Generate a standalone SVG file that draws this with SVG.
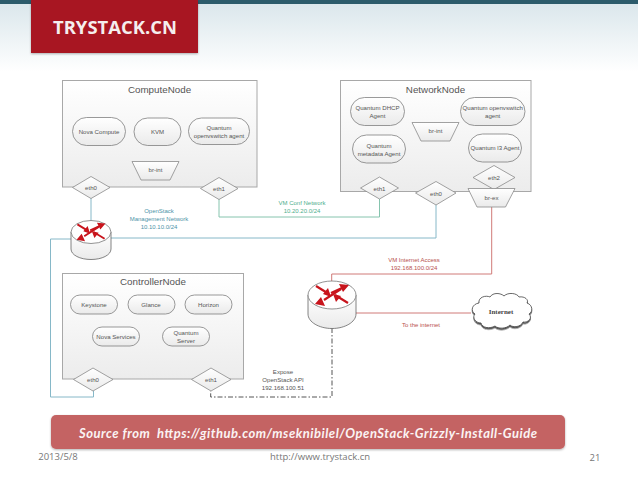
<svg xmlns="http://www.w3.org/2000/svg" width="638" height="479" viewBox="0 0 638 479">
<style>
text{font-family:"Liberation Sans",Arial,sans-serif;text-anchor:middle}
.box{fill:url(#box);stroke:#a8a8a8;stroke-width:1}
.title{font-size:9.800px;fill:#555}
.pill{fill:url(#pill);stroke:#7f7f7f;stroke-width:.8}
.sh{fill:url(#pill);stroke:#8a8a8a;stroke-width:.8}
.t{font-size:6.100px;fill:#555}
.c{fill:none;stroke-width:1}
.blue{stroke:#86b8c8}.green{stroke:#86c4ae}.red{stroke:#d07a78}
.dash{stroke:#555;stroke-dasharray:5 2 1.500 2}
.lb{font-size:6px;fill:#4d93a8}.lg{font-size:6px;fill:#4fae8c}.lr{font-size:6px;fill:#b8504e}
.foot{font-size:9.500px;fill:#777;font-family:"Open Sans","Liberation Sans",sans-serif}
.arrow{fill:#c8141c;stroke:none}
.shaft{stroke:#c8141c;stroke-width:2.200;fill:none}
</style>
<defs>
<linearGradient id="bg" x1="0" y1="0" x2="0" y2="1"><stop offset="0" stop-color="#dbe7ec"/><stop offset="1" stop-color="#fff"/></linearGradient>
<linearGradient id="box" x1="0" y1="0" x2="0" y2="1"><stop offset="0" stop-color="#fff"/><stop offset="1" stop-color="#ececec"/></linearGradient>
<linearGradient id="pill" x1="0" y1="0" x2="0" y2="1"><stop offset="0" stop-color="#fff"/><stop offset="1" stop-color="#eaeaea"/></linearGradient>
<filter id="ds" x="-5%" y="-10%" width="110%" height="125%"><feDropShadow dx="0" dy="1" stdDeviation="1" flood-color="#000" flood-opacity=".3"/></filter>
<filter id="cs" x="-10%" y="-10%" width="120%" height="130%"><feDropShadow dx="0" dy="1.500" stdDeviation=".6" flood-color="#000" flood-opacity=".7"/></filter>
<g id="arrows">
<path class="shaft" d="M-16-9L-3-1M9-6L-8 5M16 8L3 0"/>
<path class="shaft" d="M-1 -2L10-7"/>
<path class="arrow" d="M17-10L7-11L11-3ZM-17 9L-7 11L-11 2ZM-1 2L-9-1L-4-7ZM1-1L9 1L4 7Z"/>
</g>
</defs>
<rect width="638" height="479" fill="#fff"/>
<rect y="4" width="638" height="68" fill="url(#bg)"/>
<rect width="638" height="4" fill="#2c5b6b"/>
<g id="banner"><rect x="31" y="0" width="167" height="53" fill="#a81622" filter="url(#ds)"/><text x="115" y="33.500" textLength="124" lengthAdjust="spacingAndGlyphs" style="font-family:'Open Sans','Liberation Sans',sans-serif;font-size:18.500px;font-weight:700;fill:#f5eeee">TRYSTACK.CN</text></g>
<g id="connectors">
<path class="c blue" d="M91 198V222M111 238H436V205M71 239H50.500V397H93.500V391"/>
<path class="c green" d="M219 199V217H379.500V199"/>
<path class="c red" d="M491.700 207V274H331.700V281M356 313H471"/>
<path class="c dash" d="M332 328V397H210.700V391"/>
</g>
<g id="compute-node">
<rect class="box" x="62.500" y="80.500" width="194.500" height="106.500"/>
<text class="title" x="159.500" y="92.500">ComputeNode</text>
<g id="nova-compute"><rect class="pill" x="72.500" y="117.500" width="53" height="28" rx="14"/><text class="t" x="99" y="134">Nova Compute</text></g>
<g id="kvm"><rect class="pill" x="134" y="118" width="47" height="27.500" rx="13.700"/><text class="t" x="157.500" y="134">KVM</text></g>
<g id="compute-ovs-agent"><rect class="pill" x="188.500" y="118" width="61" height="26.500" rx="13"/><text class="t" x="219" y="129.500">Quantum</text><text class="t" x="219" y="137.500">openvswitch agent</text></g>
<g id="compute-br-int"><path class="sh" d="M132 161.500H179L170 180H141Z"/><text class="t" x="155.500" y="172">br-int</text></g>
<g id="compute-eth0"><path class="sh" d="M72.500 187.500L91 176.500L110 187.500L91 198.500Z"/><text class="t" x="91" y="190">eth0</text></g>
<g id="compute-eth1"><path class="sh" d="M200.500 188.500L219 177.500L238 188.500L219 199.500Z"/><text class="t" x="219" y="191">eth1</text></g>
</g>
<g id="network-node">
<rect class="box" x="340.500" y="80.500" width="190.500" height="111"/>
<text class="title" x="435.500" y="92.500">NetworkNode</text>
<g id="dhcp-agent"><rect class="pill" x="350.500" y="97.500" width="54" height="28" rx="14"/><text class="t" x="377.500" y="110">Quantum DHCP</text><text class="t" x="377.500" y="118">Agent</text></g>
<g id="ovs-agent"><rect class="pill" x="460.500" y="97.500" width="64.500" height="28" rx="14"/><text class="t" x="492.700" y="110">Quantum openvswitch</text><text class="t" x="492.700" y="118">agent</text></g>
<g id="metadata-agent"><rect class="pill" x="352.500" y="135" width="53" height="28" rx="14"/><text class="t" x="379" y="147.500">Quantum</text><text class="t" x="379" y="155.500">metadata Agent</text></g>
<g id="l3-agent"><rect class="pill" x="468.500" y="134" width="53" height="28" rx="14"/><text class="t" x="495" y="150">Quantum l3 Agent</text></g>
<g id="network-br-int"><path class="sh" d="M412 122.500H459L450 141H421Z"/><text class="t" x="435.500" y="133">br-int</text></g>
<g id="network-eth1"><path class="sh" d="M360.500 188L379.500 177L398.500 188L379.500 199Z"/><text class="t" x="379.500" y="190.500">eth1</text></g>
<g id="network-eth0"><path class="sh" d="M415.500 193L436 181.500L456 193L436 205Z"/><text class="t" x="436" y="195.500">eth0</text></g>
<g id="eth2"><path class="sh" d="M473 177.500L494 165.500L515 177.500L494 189.500Z"/><text class="t" x="494" y="180">eth2</text></g>
<g id="br-ex"><path class="sh" d="M468 188.500H515L505.500 207H477Z"/><text class="t" x="491.500" y="199.500">br-ex</text></g>
</g>
<g id="controller-node">
<rect class="box" x="62.500" y="273.500" width="181" height="105.500"/>
<text class="title" x="153" y="284.500">ControllerNode</text>
<g id="keystone"><rect class="pill" x="70.500" y="295" width="47" height="19" rx="9.500"/><text class="t" x="94" y="306.500">Keystone</text></g>
<g id="glance"><rect class="pill" x="128" y="295" width="47" height="19" rx="9.500"/><text class="t" x="151" y="306.500">Glance</text></g>
<g id="horizon"><rect class="pill" x="185" y="295" width="47" height="19" rx="9.500"/><text class="t" x="208.500" y="306.500">Horizon</text></g>
<g id="nova-services"><rect class="pill" x="92.500" y="327" width="47" height="19" rx="9.500"/><text class="t" x="116" y="338.500">Nova Services</text></g>
<g id="quantum-server"><rect class="pill" x="162.500" y="327" width="47" height="19" rx="9.500"/><text class="t" x="186" y="335">Quantum</text><text class="t" x="186" y="343">Server</text></g>
<g id="controller-eth0"><path class="sh" d="M73.500 379.500L93 368L113 379.500L93 391Z"/><text class="t" x="93" y="382">eth0</text></g>
<g id="controller-eth1"><path class="sh" d="M191.500 379.500L211 368L231 379.500L211 391Z"/><text class="t" x="211" y="382">eth1</text></g>
</g>
<g id="router-1">
<path d="M71 232V249C71 255 80 259.500 91 259.500S111 255 111 249V232Z" fill="url(#pill)" stroke="#666" stroke-width=".8"/>
<ellipse cx="91" cy="232" rx="20" ry="11.500" fill="#fff" stroke="#777" stroke-width=".8"/>
<use href="#arrows" transform="translate(91 232) scale(.85 .85)"/>
</g>
<g id="router-2">
<path d="M308 295V314C308 322 319 328.500 332 328.500S356 322 356 314V295Z" fill="url(#pill)" stroke="#666" stroke-width=".8"/>
<ellipse cx="332" cy="295" rx="24" ry="14" fill="#fff" stroke="#777" stroke-width=".8"/>
<use href="#arrows" transform="translate(332 295)"/>
</g>
<g id="internet">
<path filter="url(#cs)" d="M479 303C478 297 486 295 490 297C493 292 501 293 504 296C508 292 517 293 519 297C525 296 529 300 527 303C533 305 533 312 529 314C533 318 528 323 523 322C521 327 513 328 510 325C506 329 498 329 495 326C490 329 482 328 481 323C475 323 472 317 475 314C470 311 472 304 479 303Z" fill="#fff" stroke="#444" stroke-width=".8"/>
<text x="501" y="314" style="font-family:'Liberation Serif',serif;font-size:7px;font-weight:700;fill:#444">Internet</text>
</g>
<g id="labels">
<text class="lb" x="159" y="213">OpenStack</text><text class="lb" x="159" y="221">Management Network</text><text class="lb" x="159" y="229">10.10.10.0/24</text>
<text class="lg" x="302" y="205">VM Conf Network</text><text class="lg" x="302" y="213">10.20.20.0/24</text>
<text class="lr" x="414" y="262">VM Internet Access</text><text class="lr" x="414" y="270">192.168.100.0/24</text>
<text class="lr" x="421" y="327">To the internet</text>
<text class="t" x="283" y="374">Expose</text><text class="t" x="283" y="381.500">OpenStack API</text><text class="t" x="283" y="389.500">192.168.100.51</text>
</g>
<g id="source-bar"><rect x="51" y="415" width="514" height="34" rx="5" fill="#c46464" filter="url(#ds)"/>
<text x="308" y="438" textLength="458" lengthAdjust="spacing" xml:space="preserve" style="font-family:Lato,'Liberation Sans',sans-serif;font-size:13px;font-weight:700;font-style:italic;fill:#fbf3f3">Source from  https://github.com/mseknibilel/OpenStack-Grizzly-Install-Guide</text></g>
<g id="footer">
<text class="foot" x="58" y="460">2013/5/8</text>
<text class="foot" x="320" y="460">http://www.trystack.cn</text>
<text class="foot" x="595" y="461">21</text>
</g>
</svg>
